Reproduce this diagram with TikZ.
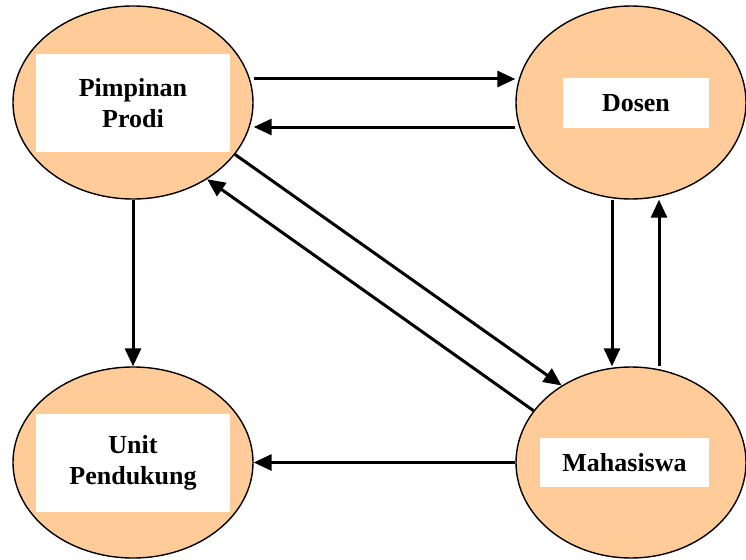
\documentclass[tikz,border=0pt]{standalone}
\usepackage{fontspec}
\setmainfont{Liberation Serif}
\usetikzlibrary{shapes.geometric,arrows.meta}

\definecolor{peach}{HTML}{FFCC99}

\tikzset{
	proses/.style={ellipse,draw=black,line width=1.4pt,fill=peach,inner sep=0pt},
	kotak/.style={rectangle,fill=white,inner sep=0pt,align=center,
		font=\fontsize{26}{31}\selectfont\bfseries},
	panah/.style={line width=3pt,-{Triangle[length=18pt,width=16pt]}}
}

\begin{document}
\begin{tikzpicture}[x=1pt,y=-1pt]
	
	\useasboundingbox (0,0) rectangle (746,559);
	
	% lingkaran
	\node[proses,minimum width=240pt,minimum height=193pt] (pim) at (133,102.5) {};
	\node[proses,minimum width=230pt,minimum height=193pt] (dos) at (631,102.5) {};
	\node[proses,minimum width=240pt,minimum height=191pt] (unit) at (133,462.5) {};
	\node[proses,minimum width=230pt,minimum height=191pt] (mah) at (631,462.5) {};
	
	% kotak putih
	\node[kotak,minimum width=194pt,minimum height=98pt] (tpim) at (133,103) {Pimpinan\\Prodi};
	\node[kotak,minimum width=146pt,minimum height=50pt] (tdos) at (636,103) {Dosen};
	\node[kotak,minimum width=194pt,minimum height=98pt] (tunit) at (133,463) {Unit\\Pendukung};
	\node[kotak,minimum width=169pt,minimum height=49pt] (tmah) at (624.5,462.5) {Mahasiswa};
	
	% panah
	\draw[panah] ([yshift=23.5pt]pim.east) -- ([yshift=23.5pt]dos.west);
	\draw[panah] ([yshift=-24.5pt]dos.west) -- ([yshift=-24.5pt]pim.east);
	\draw[panah] (pim.-27) -- (mah.132);
	\draw[panah] (mah.152) -- (pim.-46);
	\draw[panah] (pim.south) -- (unit.north);
	\draw[panah] ([xshift=-19pt]dos.south) -- ([xshift=-19pt]mah.north);
	\draw[panah] ([xshift=28pt]mah.north) -- ([xshift=28pt]dos.south);
	\draw[panah] (mah.west) -- (unit.east);
	
\end{tikzpicture}
\end{document}
